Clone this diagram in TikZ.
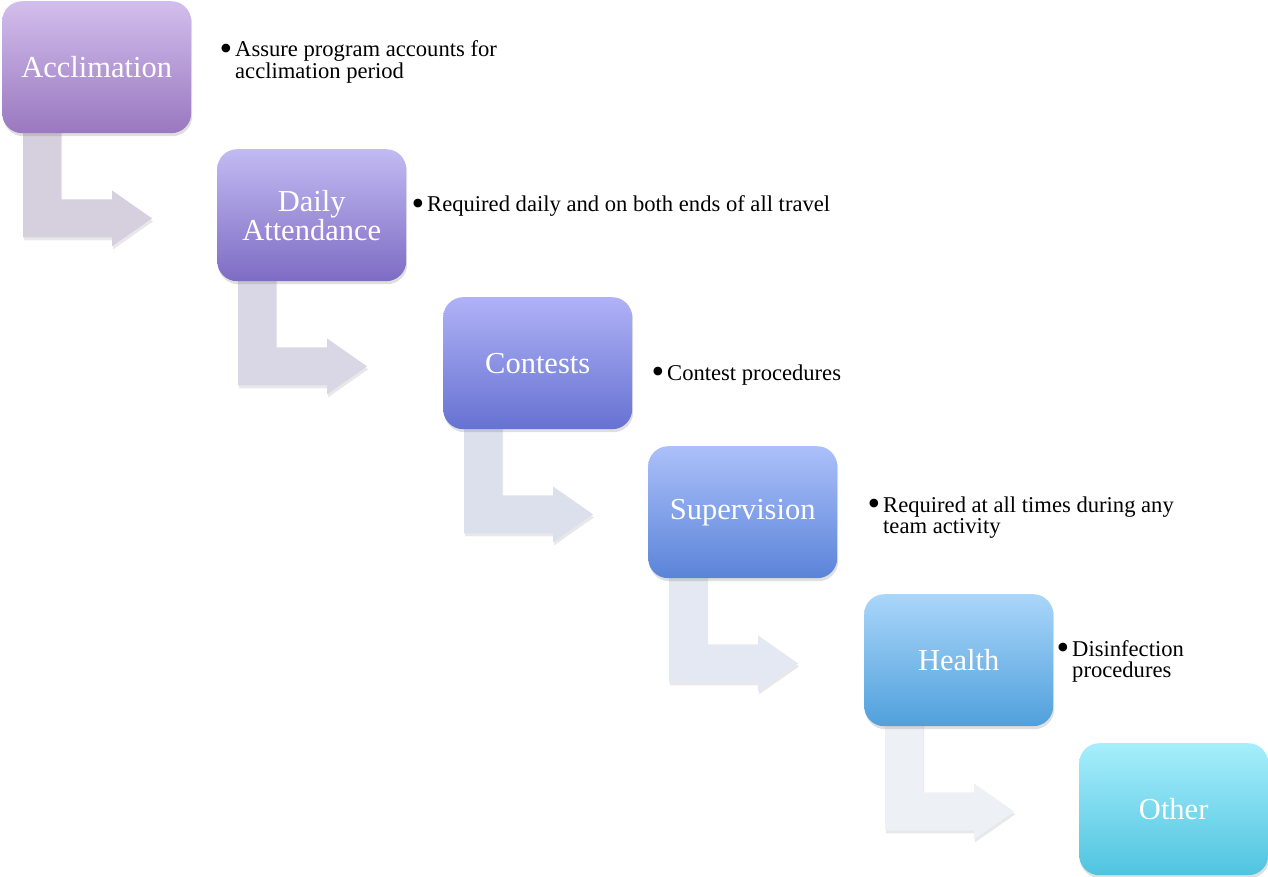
\documentclass[tikz,border=0pt]{standalone}
\usepackage{fontspec}
\usepackage{graphicx}
\setmainfont{Liberation Serif}
\usetikzlibrary{calc,shadows}
\pgfdeclarelayer{behind}
\pgfsetlayers{behind,main}

% Stage colours (top / bottom of each gradient) and connector fills
\definecolor{s1t}{HTML}{D2BEEC}\definecolor{s1b}{HTML}{9A78C0}
\definecolor{s2t}{HTML}{C2BAF2}\definecolor{s2b}{HTML}{7E6CC4}
\definecolor{s3t}{HTML}{B0B2F6}\definecolor{s3b}{HTML}{6672D2}
\definecolor{s4t}{HTML}{ACC0FA}\definecolor{s4b}{HTML}{5A84D8}
\definecolor{s5t}{HTML}{AAD6FA}\definecolor{s5b}{HTML}{50A0DC}
\definecolor{s6t}{HTML}{A6EEFC}\definecolor{s6b}{HTML}{50C4E0}
\definecolor{a1}{HTML}{D6D0DE}
\definecolor{a2}{HTML}{D9D7E6}
\definecolor{a3}{HTML}{DCE0EC}
\definecolor{a4}{HTML}{E3E8F2}
\definecolor{a5}{HTML}{EDF1F6}

\tikzset{
  stage/.style={rounded corners=20pt, minimum width=189pt, minimum height=132pt,
    inner sep=0pt, anchor=north west, text=white, align=center,
    font=\fontsize{30.5}{30}\selectfont,
    drop shadow={opacity=0.25, shadow xshift=1pt, shadow yshift=-3pt}},
  note/.style={anchor=base west, inner sep=0pt, text=black,
    font=\fontsize{22.6}{21}\selectfont},
  bendshape/.style={drop shadow={opacity=0.18, shadow xshift=1pt, shadow yshift=-3pt}}
}

% Bent arrow leaving the bottom of a stage box and pointing right
\newcommand{\bendarrow}[2]{%
  \path[fill=#2, bendshape] ($(#1.south west)+(21,-10)$) -- ++(38,0) -- ++(0,76)
    -- ++(51,0) -- ++(0,-9) -- ++(40,28) -- ++(-40,28) -- ++(0,-9)
    -- ++(-89,0) -- cycle;}

% Bulleted note: bullet, then lines set flush under each other
\newcommand{\bul}[1]{\makebox[13pt][l]{\hspace{-2.5pt}\raisebox{-3.6pt}{\scalebox{1.6}{\textbullet}}}%
  \begin{tabular}[t]{@{}l@{}}#1\end{tabular}}

\begin{document}
\begin{tikzpicture}[x=1pt, y=-1pt]
\useasboundingbox (0,0) rectangle (1268,877);

\node[stage, top color=s1t, bottom color=s1b] (acc) at (2,1)     {Acclimation};
\node[stage, top color=s2t, bottom color=s2b] (att) at (217,149) {Daily\\[-1pt]Attendance};
\node[stage, top color=s3t, bottom color=s3b] (con) at (443,297) {Contests};
\node[stage, top color=s4t, bottom color=s4b] (sup) at (648,446) {Supervision};
\node[stage, top color=s5t, bottom color=s5b] (hea) at (864,594) {Health};
\node[stage, top color=s6t, bottom color=s6b] (oth) at (1079,743) {Other};

\begin{pgfonlayer}{behind}
  \bendarrow{acc}{a1}
  \bendarrow{att}{a2}
  \bendarrow{con}{a3}
  \bendarrow{sup}{a4}
  \bendarrow{hea}{a5}
\end{pgfonlayer}

\node[note] (n1) at (222,57)  {\bul{Assure program accounts for\\acclimation period}};
\node[note] (n2) at (414,212) {\bul{Required daily and on both ends of all travel}};
\node[note] (n3) at (654,380) {\bul{Contest procedures}};
\node[note] (n4) at (870,512) {\bul{Required at all times during any\\team activity}};
\node[note] (n5) at (1059,656) {\bul{Disinfection\\procedures}};
\end{tikzpicture}
\end{document}
